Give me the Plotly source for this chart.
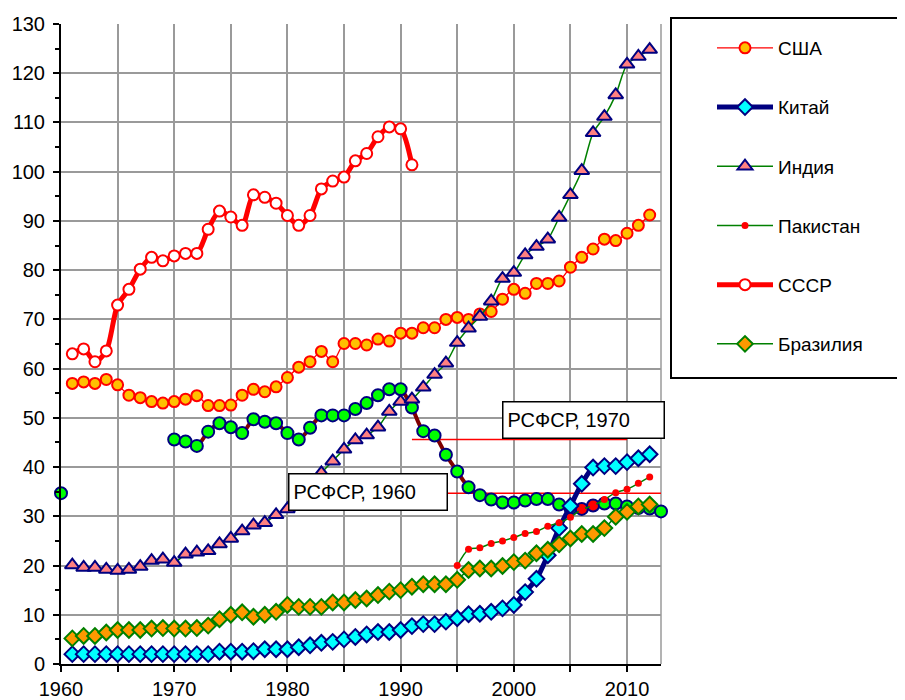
import plotly.graph_objects as go

# ---------------- data ----------------
years = list(range(1961, 2013))

usa = [57.0, 57.3, 57.0, 57.8, 56.7, 54.6, 54.1, 53.3, 53.0, 53.3,
       53.8, 54.5, 52.5, 52.5, 52.6, 54.6, 55.8, 55.3, 56.3, 58.2,
       60.3, 61.4, 63.5, 61.4, 65.1, 65.1, 64.8, 66.0, 65.6, 67.2,
       67.2, 68.3, 68.3, 70.0, 70.4, 70.0, 71.1, 71.6, 74.1, 76.1,
       75.3, 77.3, 77.3, 77.8, 80.6, 82.6, 84.3, 86.3, 86.0, 87.5,
       89.1, 91.2]

china = [2.0, 2.0, 2.0, 2.0, 2.0, 2.0, 2.0, 2.0, 2.0, 2.0,
         2.0, 2.0, 2.0, 2.5, 2.5, 2.5, 2.6, 3.0, 3.0, 3.0,
         3.4, 3.8, 4.3, 4.5, 5.0, 5.5, 6.0, 6.5, 6.5, 6.9,
         7.7, 8.1, 8.1, 8.6, 9.3, 10.1, 10.2, 10.6, 11.3, 12.0,
         14.6, 17.3, 22.1, 27.6, 32.1, 36.6, 39.9, 40.2, 40.2, 41.0,
         41.8, 42.6]

india = [20.1, 19.6, 19.6, 19.2, 19.0, 19.2, 19.8, 21.0, 21.3, 20.6,
         22.3, 22.7, 23.0, 24.4, 25.5, 27.0, 28.2, 28.7, 30.3, 31.5,
         33.6, 36.1, 38.8, 41.2, 43.6, 45.5, 46.5, 48.1, 51.3, 53.3,
         53.8, 56.2, 58.8, 61.1, 65.3, 68.2, 70.6, 73.7, 78.3, 79.5,
         83.1, 84.8, 86.3, 90.7, 95.3, 100.2, 107.9, 111.2, 115.6, 121.8,
         123.4, 124.8]

pakistan_years = list(range(1995, 2013))
pakistan = [20.0, 23.3, 23.6, 24.5, 25.0, 25.7, 26.5, 26.9, 28.0, 28.7,
            29.8, 31.4, 32.2, 33.4, 34.8, 35.5, 36.7, 38.0]

ussr_years = list(range(1961, 1992))
ussr = [63.0, 64.0, 61.4, 63.6, 72.9, 76.1, 80.2, 82.6, 81.9, 82.9,
        83.4, 83.4, 88.3, 92.0, 90.8, 89.1, 95.3, 94.8, 93.6, 91.1,
        89.1, 91.1, 96.5, 98.1, 98.9, 102.2, 103.7, 107.1, 109.1, 108.7,
        101.4]

brazil = [5.2, 5.7, 5.7, 6.4, 6.9, 6.9, 6.9, 7.2, 7.3, 7.2,
          7.2, 7.3, 7.8, 9.1, 10.0, 10.5, 9.6, 10.0, 10.6, 12.0,
          11.6, 11.6, 11.6, 12.5, 12.5, 13.0, 13.3, 14.0, 14.7, 15.0,
          15.7, 16.2, 16.2, 16.2, 17.1, 19.1, 19.4, 19.4, 19.9, 20.7,
          21.0, 22.5, 23.2, 24.3, 25.5, 26.4, 26.4, 27.6, 29.9, 30.9,
          32.0, 32.4]

rsfsr_years = [1960] + list(range(1970, 2014))
rsfsr = [34.7,
         45.6, 45.2, 44.3, 47.2, 48.9, 48.1, 46.9, 49.7, 49.2, 48.9,
         46.9, 45.6, 48.0, 50.5, 50.5, 50.5, 51.8, 53.0, 54.6, 55.8,
         55.8, 52.1, 47.3, 46.4, 42.5, 39.1, 35.9, 34.3, 33.4, 32.8,
         32.8, 33.2, 33.5, 33.5, 32.4, 31.6, 31.5, 32.2, 32.6, 32.6,
         32.0, 31.7, 31.6, 31.0]

# reference levels (RSFSR in 1960 / 1970) and the spans they are drawn over
ref_years = [1960, 1970]
ref_labels = ["РСФСР, 1960", "РСФСР, 1970"]
ref_spans = [(1991, 2013), (1991, 2010)]

x_tick_years = list(range(1960, 2011, 5))
x_tick_labels = [str(y) if y % 10 == 0 else "" for y in x_tick_years]
y_ticks = list(range(0, 131, 10))

# ---------------- styling ----------------
FONT = "Arial, 'Liberation Sans', sans-serif"
PAGE_OFFSET = 8               # default body margin of the html page
W, H = 905 - PAGE_OFFSET, 700 - PAGE_OFFSET
SCR_L, SCR_T = 61, 24         # plot area on screen
PW, PH = 600, 640
L, T = SCR_L - PAGE_OFFSET, SCR_T - PAGE_OFFSET
R, B = W - L - PW, H - T - PH


def px_x(p):   # screen pixel -> paper x
    return (p - SCR_L) / PW


def px_y(p):   # screen pixel -> paper y
    return (SCR_T + PH - p) / PH


fig = go.Figure()

# reference lines
for yr, (a, b) in zip(ref_years, ref_spans):
    lvl = rsfsr[rsfsr_years.index(yr)]
    fig.add_trace(go.Scatter(x=[a, b], y=[lvl, lvl], mode="lines",
                             line=dict(color="#FF0000", width=1.5),
                             showlegend=False, hoverinfo="skip"))

# RSFSR series (break the line where years are not consecutive)
rx, ry = [], []
for i, (yr, v) in enumerate(zip(rsfsr_years, rsfsr)):
    if i > 0 and yr - rsfsr_years[i - 1] > 1:
        rx.append(None)
        ry.append(None)
    rx.append(yr)
    ry.append(v)
red_years = {2006, 2007}
rcolors = [("#FF0000" if x in red_years else "#00FF00") for x in rx]
fig.add_trace(go.Scatter(
    x=rx, y=ry, mode="lines+markers", connectgaps=False,
    line=dict(color="#800000", width=4, shape="spline", smoothing=0.8),
    marker=dict(symbol="circle", size=12, color=rcolors,
                line=dict(color="#000080", width=2)),
    showlegend=False, cliponaxis=False))

series = [
    dict(name="США", x=years, y=usa, lc="#FF0000", lw=1.3, sym="circle",
         ms=11, mc="#FFC000", mlc="#FF0000", mlw=2),
    dict(name="Китай", x=years, y=china, lc="#000080", lw=5, sym="diamond",
         ms=12, mc="#00FFFF", mlc="#000080", mlw=2),
    dict(name="Индия", x=years, y=india, lc="#008000", lw=1.5,
         sym="triangle-up", ms=13, mc="#FF8080", mlc="#000080", mlw=2),
    dict(name="Пакистан", x=pakistan_years, y=pakistan, lc="#008000", lw=1.5,
         sym="circle", ms=7, mc="#FF0000", mlc="#FF0000", mlw=0),
    dict(name="СССР", x=ussr_years, y=ussr, lc="#FF0000", lw=5, sym="circle",
         ms=11, mc="#FFFFFF", mlc="#FF0000", mlw=2),
    dict(name="Бразилия", x=years, y=brazil, lc="#008000", lw=1.5,
         sym="diamond", ms=12, mc="#FF9900", mlc="#008000", mlw=2),
]
for s in series:
    fig.add_trace(go.Scatter(
        x=s["x"], y=s["y"], name=s["name"], legendgroup=s["name"],
        mode="lines+markers",
        line=dict(color=s["lc"], width=s["lw"], shape="spline", smoothing=0.8),
        marker=dict(symbol=s["sym"], size=s["ms"], color=s["mc"],
                    line=dict(color=s["mlc"], width=s["mlw"])),
        cliponaxis=False))

# annotation boxes
for (lbl, x_left, y_mid, w) in [(ref_labels[0], 288, 492, 149),
                                (ref_labels[1], 502, 420, 152)]:
    fig.add_annotation(
        text=lbl, xref="paper", yref="paper", x=px_x(x_left), y=px_y(y_mid),
        xanchor="left", yanchor="middle", showarrow=False, align="left",
        width=w, height=27, borderpad=4, bordercolor="#000000",
        borderwidth=1.5, bgcolor="#FFFFFF",
        font=dict(family=FONT, size=20, color="#000000"))

# legend frame and plot right border
fig.add_shape(type="rect", xref="paper", yref="paper",
              x0=px_x(671), x1=px_x(910), y0=px_y(378), y1=px_y(18),
              line=dict(color="#000000", width=2), fillcolor="rgba(0,0,0,0)")
fig.add_shape(type="line", xref="paper", yref="paper", x0=1, x1=1, y0=0, y1=1,
              line=dict(color="#9A9A9A", width=1.5), layer="between")

grid = "#9A9A9A"
fig.update_layout(
    template="none",
    width=W, height=H,
    margin=dict(l=L, r=R, t=T, b=B, autoexpand=False),
    paper_bgcolor="#FFFFFF", plot_bgcolor="#FFFFFF",
    font=dict(family=FONT, size=20, color="#000000"),
    showlegend=True,
    legend=dict(x=px_x(712), y=px_y(29), xanchor="left", yanchor="top",
                bgcolor="rgba(0,0,0,0)", borderwidth=0,
                font=dict(family=FONT, size=19, color="#000000"),
                itemwidth=56, tracegroupgap=31.5, traceorder="grouped",
                itemclick=False),
    xaxis=dict(range=[1960, 2013], tickmode="array", tickvals=x_tick_years,
               ticktext=x_tick_labels, ticks="outside", ticklen=6,
               tickcolor="#000000", tickwidth=1.5, automargin=False,
               showgrid=True, gridcolor=grid, gridwidth=1.5,
               showline=True, linecolor="#000000", linewidth=2,
               zeroline=False, tickfont=dict(size=20)),
    yaxis=dict(range=[0, 130], tickmode="array", tickvals=y_ticks,
               ticks="outside", ticklen=6, tickcolor="#000000", tickwidth=1.5,
               minor=dict(dtick=5, ticks="outside", ticklen=4,
                          tickcolor="#000000", showgrid=False),
               showgrid=True, gridcolor=grid, gridwidth=1.5, automargin=False,
               ticklabelstandoff=4,
               showline=True, linecolor="#000000", linewidth=2,
               zeroline=False, tickfont=dict(size=20)),
)

fig.write_html("out.html")
